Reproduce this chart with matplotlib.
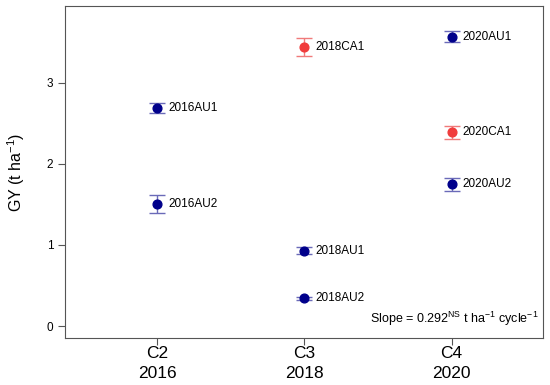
import numpy as np
import matplotlib
matplotlib.use('Agg')
import matplotlib.pyplot as plt

plt.rcParams['font.family'] = ['Liberation Sans', 'DejaVu Sans']
plt.rcParams['mathtext.fontset'] = 'custom'
plt.rcParams['mathtext.rm'] = 'Liberation Sans'

# cycle position (1 = C2/2016, 2 = C3/2018, 3 = C4/2020)
cycles = [1, 2, 3]
cycle_labels = ['C2\n2016', 'C3\n2018', 'C4\n2020']

au_names = ['2016AU1', '2016AU2', '2018AU1', '2018AU2', '2020AU1', '2020AU2']
au_x = [1, 1, 2, 2, 3, 3]
au_gy = [2.69, 1.51, 0.93, 0.34, 3.57, 1.75]
au_err = [0.06, 0.11, 0.04, 0.02, 0.07, 0.08]

ca_names = ['2018CA1', '2020CA1']
ca_x = [2, 3]
ca_gy = [3.44, 2.39]
ca_err = [0.11, 0.08]

fig = plt.figure(figsize=(5.5, 3.85), dpi=100)
ax = fig.add_axes([65 / 550, 1 - 338 / 385, 478 / 550, 332 / 385])

ax.errorbar(au_x, au_gy, yerr=au_err, fmt='o', color='#00008b', ms=6.3,
            ecolor='#6a6ab8', elinewidth=1, capsize=6, capthick=1)
ax.errorbar(ca_x, ca_gy, yerr=ca_err, fmt='o', color='#f03c3c', ms=6.3,
            ecolor='#f07a7a', elinewidth=1, capsize=6, capthick=1)

for n, x, y in zip(au_names + ca_names, au_x + ca_x, au_gy + ca_gy):
    ax.text(x + 0.075, y, n, fontsize=8.5, va='center', ha='left')

ax.text(0.99, 0.03, r'Slope = 0.292$^{\mathrm{NS}}$ t ha$^{-1}$ cycle$^{-1}$',
        transform=ax.transAxes, ha='right', va='bottom', fontsize=9)

ax.set_xlim(0.375, 3.62)
ax.set_ylim(-0.148, 3.95)
ax.set_xticks(cycles)
ax.set_xticklabels(cycle_labels, fontsize=12.5, linespacing=1.35)
ax.set_yticks([0, 1, 2, 3])
ax.tick_params(axis='y', labelsize=8.5, length=5, color='#555555')
ax.tick_params(axis='x', length=5, pad=1, color='#555555')
ax.set_ylabel('GY (t ha$^{-1}$)', fontsize=11.5, labelpad=14)
for s in ax.spines.values():
    s.set_color('#555555')

fig.savefig('out.png', dpi=100)
